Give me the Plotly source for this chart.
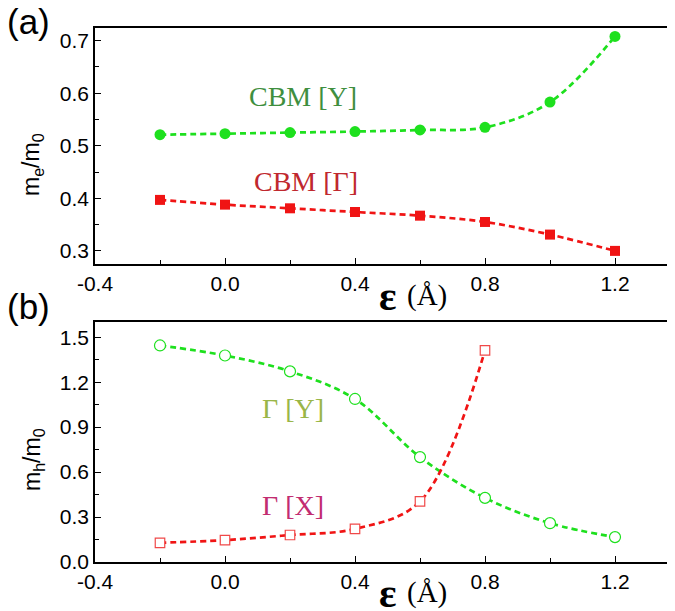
import plotly.graph_objects as go

# ---- data ----
strain = [-0.2, 0.0, 0.2, 0.4, 0.6, 0.8, 1.0, 1.2]
cbm_y = [0.521, 0.523, 0.525, 0.527, 0.530, 0.535, 0.583, 0.708]
cbm_gamma = [0.397, 0.388, 0.381, 0.374, 0.367, 0.355, 0.331, 0.300]

strain_gy = [-0.2, 0.0, 0.2, 0.4, 0.6, 0.8, 1.0, 1.2]
gamma_y = [1.445, 1.378, 1.272, 1.088, 0.700, 0.428, 0.259, 0.166]
strain_gx = [-0.2, 0.0, 0.2, 0.4, 0.6, 0.8]
gamma_x = [0.128, 0.146, 0.180, 0.221, 0.404, 1.412]

xticks = [-0.4, 0.0, 0.4, 0.8, 1.2]
xtick_text = ["-0.4", "0.0", "0.4", "0.8", "1.2"]
yticks_a = [0.3, 0.4, 0.5, 0.6, 0.7]
ytick_text_a = ["0.3", "0.4", "0.5", "0.6", "0.7"]
yticks_b = [0.0, 0.3, 0.6, 0.9, 1.2, 1.5]
ytick_text_b = ["0.0", "0.3", "0.6", "0.9", "1.2", "1.5"]

GREEN = "#1ee01e"
RED = "#f01414"
DASH = "6px,4px"

fig = go.Figure()

fig.add_trace(go.Scatter(x=strain, y=cbm_y, mode="lines+markers", xaxis="x", yaxis="y",
                         line=dict(color=GREEN, width=2.7, dash=DASH, shape="spline"),
                         marker=dict(symbol="circle", size=11, color=GREEN), showlegend=False))
fig.add_trace(go.Scatter(x=strain, y=cbm_gamma, mode="lines+markers", xaxis="x", yaxis="y",
                         line=dict(color=RED, width=2.7, dash=DASH, shape="spline"),
                         marker=dict(symbol="square", size=10, color=RED), showlegend=False))
fig.add_trace(go.Scatter(x=strain_gy, y=gamma_y, mode="lines+markers", xaxis="x2", yaxis="y2",
                         line=dict(color=GREEN, width=2.7, dash=DASH, shape="spline"),
                         marker=dict(symbol="circle", size=11, color="white",
                                     line=dict(width=1.2, color=GREEN)),
                         showlegend=False))
fig.add_trace(go.Scatter(x=strain_gx, y=gamma_x, mode="lines+markers", xaxis="x2", yaxis="y2",
                         line=dict(color=RED, width=2.7, dash=DASH, shape="spline"),
                         marker=dict(symbol="square", size=9.5, color="white",
                                     line=dict(width=1.2, color="#f04848")),
                         showlegend=False))

tickfont = dict(family="Liberation Sans, Arial, sans-serif", size=21, color="black")
common = dict(showline=True, linecolor="black", linewidth=1.5, mirror=True, ticks="inside",
              ticklen=6, tickwidth=1.2, tickcolor="black", showgrid=False, zeroline=False,
              tickfont=tickfont, automargin=False)

fig.update_layout(
    width=675, height=611,
    margin=dict(l=87, r=3, t=20, b=57),
    paper_bgcolor="white", plot_bgcolor="white",
    xaxis=dict(domain=[0, 1], anchor="y", range=[-0.4, 1.4], tickvals=xticks, ticktext=xtick_text,
               minor=dict(ticks="inside", ticklen=4, dtick=0.2, tickcolor="black"), **common),
    yaxis=dict(domain=[0.558, 1.0], anchor="x", range=[0.275, 0.724], tickvals=yticks_a,
               ticktext=ytick_text_a,
               minor=dict(ticks="inside", ticklen=4, dtick=0.05, tickcolor="black"), **common),
    xaxis2=dict(domain=[0, 1], anchor="y2", range=[-0.4, 1.4], tickvals=xticks, ticktext=xtick_text,
                minor=dict(ticks="inside", ticklen=4, dtick=0.2, tickcolor="black"), **common),
    yaxis2=dict(domain=[0.0, 0.449], anchor="x2", range=[0.0, 1.6], tickvals=yticks_b,
                ticktext=ytick_text_b,
                minor=dict(ticks="inside", ticklen=4, dtick=0.15, tickcolor="black"), **common),
)

serif = "Liberation Serif, Times New Roman, serif"
sans = "Liberation Sans, Arial, sans-serif"
W, H = 675.0, 611.0
L, R, T, B = 87, 3, 20, 57


def py(pix):
    return (H - B - pix) / (H - B - T)


def px(pix):
    return (pix - L) / (W - L - R)


ann = []


def add(text, x, baseline, size, color, family, angle=0, xanchor="left", center=None):
    # place by text baseline (pixel) unless a center is given
    ymid = center if center is not None else baseline - 0.345 * size
    ann.append(dict(text=text, x=px(x), y=py(ymid), xref="paper", yref="paper", showarrow=False,
                    font=dict(size=size, color=color, family=family), textangle=angle,
                    xanchor=xanchor, yanchor="middle"))


add("CBM [Y]", 239, 98, 28, "#3f8f3f", serif)
add("CBM [Γ]", 244, 183, 28, "#c0282e", serif)
add("Γ [Y]", 252, 410, 28, "#9ab648", serif)
add("Γ [X]", 252, 507, 28, "#c22c70", serif)

add("<b>ε</b>", 369, 302, 41, "black", serif)
add("(Å)", 397, 298, 29, "black", serif)
add("<b>ε</b>", 369, 599, 41, "black", serif)
add("(Å)", 397, 595, 29, "black", serif)

add("m<sub>e</sub>/m<sub>0</sub>", 25, None, 23, "black", sans, angle=-90, xanchor="center", center=157)
add("m<sub>h</sub>/m<sub>0</sub>", 25, None, 23, "black", sans, angle=-90, xanchor="center", center=452)

add("(a)", -3, 26, 35, "black", sans)
add("(b)", -3, 311, 35, "black", sans)

fig.update_layout(annotations=ann)
fig.write_html("out.html")
